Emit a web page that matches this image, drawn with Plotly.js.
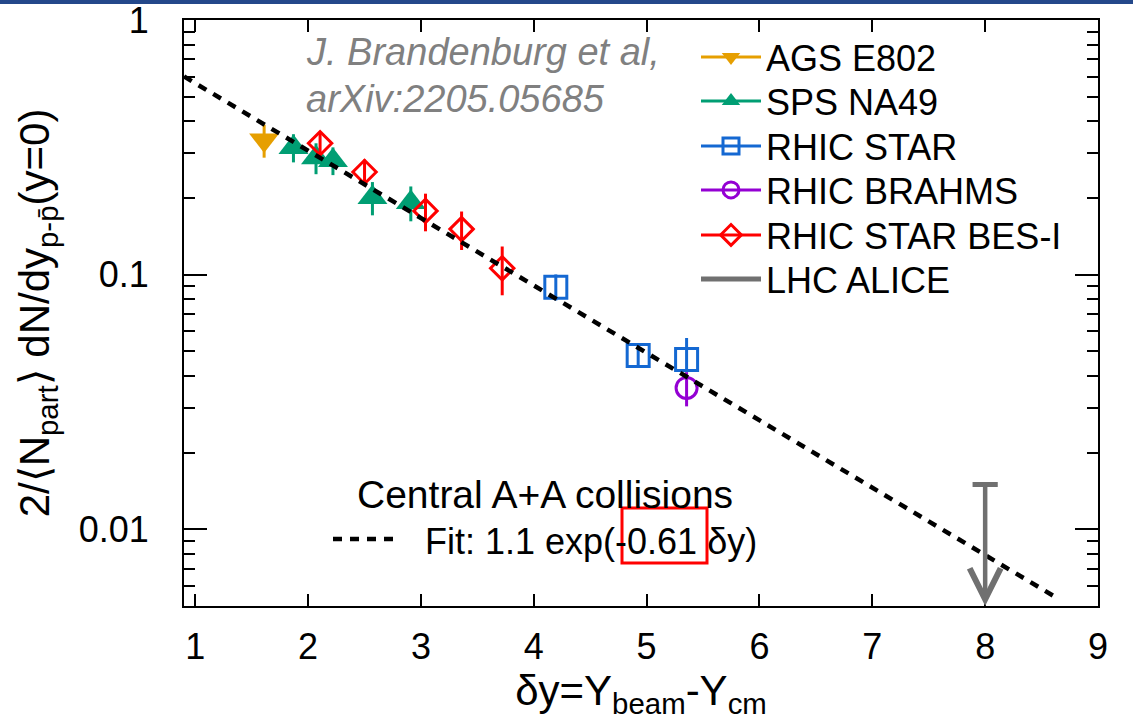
<!DOCTYPE html>
<html>
<head>
<meta charset="utf-8">
<script src="https://cdn.plot.ly/plotly-3.0.1.min.js"></script>
<style>
html,body{margin:0;padding:0;background:#fff;}
#chart{width:1133px;height:721px;}
</style>
</head>
<body>
<div id="chart"></div>
<script>
// ---- data ----
const agsX = [1.61];
const agsY = [0.338];
const agsErr = [0.05];

const na49X = [1.87, 2.07, 2.22, 2.57, 2.91];
const na49Y = [0.316, 0.288, 0.281, 0.201, 0.192];
const na49Err = [0.04, 0.04, 0.035, 0.03, 0.03];

const starX = [4.195, 4.925, 5.354];
const starY = [0.0892, 0.0481, 0.0464];
const starErrUp = [0.011, 0.004, 0.010];
const starErrDown = [0.010, 0.004, 0.005];

const brahmsX = [5.354];
const brahmsY = [0.0359];
const brahmsErr = [0.0055];

const besX = [2.106, 2.50, 3.04, 3.36, 3.72];
const besY = [0.328, 0.253, 0.178, 0.151, 0.106];
const besErr = [0.03, 0.03, 0.03, 0.026, 0.023];

const aliceX = [8];
const aliceUpper = [0.015];

const fitX = [0.9, 8.66];
const fitY = [0.60, 0.0053];

const legendNames = ["AGS E802", "SPS NA49", "RHIC STAR", "RHIC BRAHMS", "RHIC STAR BES-I", "LHC ALICE"];
const xTickVals = [1, 2, 3, 4, 5, 6, 7, 8, 9];
const yTickVals = [0.01, 0.1, 1];
const yTickText = ["0.01", "0.1", "1"];

// ---- styling ----
const C_AGS = "#E69F00", C_NA49 = "#009E73", C_STAR = "#1468d2", C_BRAHMS = "#9400D3", C_BES = "#FF0000", C_ALICE = "#707070";
const FONT = "Liberation Sans, Arial, Helvetica, sans-serif";

// plot-area pixel geometry
const L = 184, R = 1098, T = 20, B = 606;
const W = 1133, H = 721;
const px = v => (v - L) / (R - L);
const py = v => 1 - (v - T) / (B - T);

function errY(arr, color, minus) {
  const e = {type: "data", array: arr, visible: true, color: color, thickness: 3, width: 0};
  if (minus) { e.symmetric = false; e.arrayminus = minus; }
  return e;
}

const traces = [
  {x: agsX, y: agsY, mode: "markers", showlegend: false,
   marker: {symbol: "triangle-down", size: 26, color: C_AGS},
   error_y: errY(agsErr, C_AGS)},
  {x: na49X, y: na49Y, mode: "markers", showlegend: false,
   marker: {symbol: "triangle-up", size: 26, color: C_NA49},
   error_y: errY(na49Err, C_NA49)},
  {x: starX, y: starY, mode: "markers", showlegend: false,
   marker: {symbol: "square-open", size: 22, color: C_STAR, line: {width: 3, color: C_STAR}},
   error_y: errY(starErrUp, C_STAR, starErrDown)},
  {x: brahmsX, y: brahmsY, mode: "markers", showlegend: false,
   marker: {symbol: "circle-open", size: 21, color: C_BRAHMS, line: {width: 3, color: C_BRAHMS}},
   error_y: errY(brahmsErr, C_BRAHMS)},
  {x: besX, y: besY, mode: "markers", showlegend: false,
   marker: {symbol: "diamond-open", size: 18, color: C_BES, line: {width: 3, color: C_BES}},
   error_y: errY(besErr, C_BES)},
  // ALICE upper-limit cap
  {x: aliceX, y: aliceUpper, mode: "markers", showlegend: false,
   marker: {symbol: "line-ew", size: 18, color: C_ALICE, line: {width: 5, color: C_ALICE}}},
  // fit line
  {x: fitX, y: fitY, mode: "lines", showlegend: false,
   line: {color: "#000", width: 4.5, dash: "9px,8px"}}
];

// legend entries (line through marker, like the reference), one legend box per entry
const legStyles = [
  {symbol: "triangle-down", color: C_AGS, open: false, size: 22},
  {symbol: "triangle-up", color: C_NA49, open: false, size: 22},
  {symbol: "square-open", color: C_STAR, open: true, size: 20},
  {symbol: "circle-open", color: C_BRAHMS, open: true, size: 20},
  {symbol: "diamond-open", color: C_BES, open: true, size: 17},
  {symbol: null, color: C_ALICE, open: false, size: 0}
];
const legendRowY = [57, 101, 146, 190, 235, 279]; // pixel rows of legend entries
const legendLayouts = {};
legendNames.forEach((name, i) => {
  const s = legStyles[i];
  const key = i === 0 ? "legend" : "legend" + (i + 1);
  const t = {x: [null], y: [null], name: name, showlegend: true, legend: key,
    line: {color: s.color, width: s.symbol ? 3 : 5}};
  if (s.symbol) {
    t.mode = "lines+markers";
    t.marker = {symbol: s.symbol, size: s.size, color: s.color, line: {width: s.open ? 3 : 0, color: s.color}};
  } else {
    t.mode = "lines";
  }
  traces.push(t);
  legendLayouts[key] = {x: px(696), y: py(legendRowY[i]), xanchor: "left", yanchor: "middle",
    font: {family: FONT, size: 36, color: "#000"}, bgcolor: "rgba(0,0,0,0)",
    borderwidth: 0, itemwidth: 60};
});

const annotations = [
  {xref: "paper", yref: "paper", x: px(304), y: py(52), xanchor: "left", yanchor: "middle",
   text: "<i>J. Brandenburg et al,</i>", showarrow: false, font: {family: FONT, size: 38, color: "#808080"}},
  {xref: "paper", yref: "paper", x: px(304), y: py(99), xanchor: "left", yanchor: "middle",
   text: "<i>arXiv:2205.05685</i>", showarrow: false, font: {family: FONT, size: 38, color: "#808080"}},
  {xref: "paper", yref: "paper", x: px(545), y: py(494), xanchor: "center", yanchor: "middle",
   text: "Central A+A collisions", showarrow: false, font: {family: FONT, size: 39, color: "#000"}},
  {xref: "paper", yref: "paper", x: px(423), y: py(541), xanchor: "left", yanchor: "middle",
   text: "Fit: 1.1 exp(-0.61 δy)", showarrow: false, font: {family: FONT, size: 36, color: "#000"}},
  // ALICE upper-limit arrow
  {xref: "x", yref: "y", axref: "x", ayref: "y",
   x: aliceX[0], y: Math.log10(0.005), ax: aliceX[0], ay: Math.log10(aliceUpper[0]),
   showarrow: true, arrowhead: 5, arrowsize: 1.35, arrowwidth: 4.5, arrowcolor: C_ALICE, standoff: 0, startstandoff: 0, text: ""}
];

const shapes = [
  // dashed fit sample in the inline legend
  {type: "line", xref: "paper", yref: "paper", x0: px(333), x1: px(399), y0: py(539), y1: py(539),
   line: {color: "#000", width: 4.5, dash: "9px,8px"}},
  // red highlight box
  {type: "rect", xref: "paper", yref: "paper", x0: px(622), x1: px(707), y0: py(563), y1: py(508),
   line: {color: "#ff0000", width: 3}},
  // slide header band
  {type: "rect", xref: "paper", yref: "paper", x0: px(0), x1: px(W), y0: py(4), y1: py(0),
   fillcolor: "#24488a", line: {width: 0}, layer: "above"}
];

const minorVals = [];
[0.001, 0.01, 0.1].forEach(d => { for (let k = 2; k <= 9; k++) minorVals.push(+(k * d).toPrecision(3)); });

const layout = Object.assign({
  width: W, height: H,
  margin: {l: L, r: W - R, t: T, b: H - B, pad: 0},
  paper_bgcolor: "#fff", plot_bgcolor: "#fff",
  font: {family: FONT, color: "#000"},
  showlegend: true,
  xaxis: {range: [0.9, 9], tickmode: "array", tickvals: xTickVals,
          ticks: "inside", ticklen: 12, tickwidth: 2, tickcolor: "#000",
          showline: true, linewidth: 2, linecolor: "#000", mirror: "ticks",
          showgrid: false, zeroline: false, ticklabeloverflow: "allow",
          tickfont: {family: FONT, size: 36, color: "#000"}, ticklabelstandoff: 8,
          automargin: false,
          title: {text: "δy=Y<sub>beam</sub>-Y<sub>cm</sub>", font: {family: FONT, size: 42, color: "#000"}, standoff: 2}},
  yaxis: {type: "log", range: [Math.log10(0.005), 0], tickmode: "array", tickvals: yTickVals, ticktext: yTickText,
          ticks: "inside", ticklen: 23, tickwidth: 2, tickcolor: "#000",
          minor: {tickmode: "array", tickvals: minorVals, ticks: "inside", ticklen: 11, tickwidth: 2, tickcolor: "#000", showgrid: false},
          showline: true, linewidth: 2, linecolor: "#000", mirror: "ticks",
          showgrid: false, zeroline: false, ticklabeloverflow: "allow",
          tickfont: {family: FONT, size: 36, color: "#000"}, ticklabelstandoff: 26,
          automargin: false,
          title: {text: "2/⟨N<sub>part</sub>⟩ dN/dy<sub>p-p̄</sub>(y=0)", font: {family: FONT, size: 42, color: "#000"}, standoff: 16}},
  annotations: annotations,
  shapes: shapes
}, legendLayouts);

Plotly.newPlot("chart", traces, layout, {displayModeBar: false, staticPlot: true});
</script>
</body>
</html>
